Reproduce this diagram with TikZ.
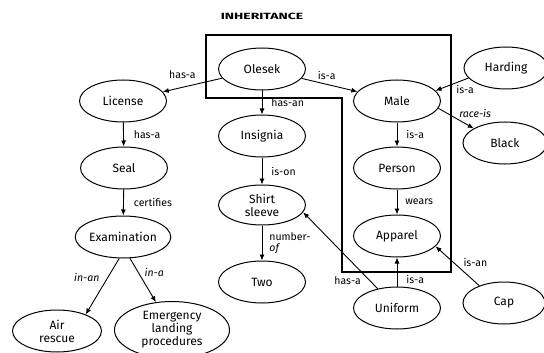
\documentclass[tikz,border=0pt]{standalone}
\usepackage{fontspec}
\setmainfont{Fira Sans}
\usetikzlibrary{shapes.geometric,arrows.meta}

\tikzset{
  concept/.style={draw, ellipse, line width=1pt, minimum width=87pt, minimum height=42pt,
    inner sep=0pt, align=center, font=\fontsize{12}{13}\selectfont},
  rel/.style={-{Latex[length=6pt,width=5pt]}, line width=0.9pt},
  lbl/.style={font=\fontsize{10.5}{11}\selectfont, inner sep=1pt, align=left},
  ilbl/.style={lbl, font=\fontsize{10.5}{11}\selectfont\itshape},
}

\begin{document}
\begin{tikzpicture}[x=1pt, y=-1pt]
\useasboundingbox (0,0) rectangle (544,353);

\node (title) at (262,16) {\scalebox{1.55}[1]{\fontsize{9}{9}\selectfont\bfseries INHERITANCE}};

% the inheritance frame
\draw[line width=2.5pt] (206,35) -- (451,35) -- (451,272) -- (342,272) -- (342,98) -- (206,98) -- cycle;

% concepts
\node[concept] (olesek) at (262,69) {Olesek};
\node[concept] (license) at (123,101) {License};
\node[concept] (seal) at (124,168) {Seal};
\node[concept] (exam) at (123,237) {Examination};
\node[concept, minimum width=89pt] (air) at (57,331) {Air\\rescue};
\node[concept, minimum width=115pt, minimum height=57pt] (emerg) at (172,330) {Emergency\\landing\\procedures};
\node[concept] (insignia) at (262,136) {Insignia};
\node[concept, minimum height=40pt] (shirt) at (262,205) {Shirt\\sleeve};
\node[concept] (two) at (262,282) {Two};
\node[concept] (male) at (397,101) {Male};
\node[concept] (person) at (397,168) {Person};
\node[concept] (apparel) at (397,236) {Apparel};
\node[concept] (uniform) at (397,308) {Uniform};
\node[concept, minimum width=82pt] (cap) at (504,303) {Cap};
\node[concept, minimum width=84pt] (harding) at (506,68) {Harding};
\node[concept, minimum width=84pt] (black) at (505,143) {Black};

% relations
\draw[rel] (olesek) -- (license) node[lbl, pos=0.67, above=7pt] (l-has1) {has-a};
\draw[rel] (olesek) -- (male) node[lbl, pos=0.45, above=3pt] (l-isa1) {is-a};
\draw[rel] (olesek) -- (insignia) node[lbl, midway, right=8pt] (l-hasan) {has-an};
\draw[rel] (license) -- (seal) node[lbl, midway, right=9pt] (l-has2) {has-a};
\draw[rel] (seal) -- (exam) node[lbl, midway, right=9pt] (l-cert) {certifies};
\draw[rel] (exam.-100) -- (air.30) node[ilbl, pos=0.34, left=7pt] (l-inan) {in-an};
\draw[rel] (exam.-72) -- (emerg.120) node[ilbl, pos=0.32, right=5pt] (l-ina) {in-a};
\draw[rel] (insignia) -- (shirt) node[lbl, midway, right=8pt] (l-ison) {is-on};
\draw[rel] (shirt) -- (two) node[lbl, midway, right=6pt] (l-num) {number-\\\textit{of}};
\draw[rel] (male) -- (person) node[lbl, midway, right=8pt] (l-isa2) {is-a};
\draw[rel] (person) -- (apparel) node[lbl, midway, right=7pt] (l-wears) {wears};
\draw[rel] (uniform) -- (apparel) node[lbl, pos=0.25, right=8pt] (l-isa3) {is-a};
\draw[rel] (uniform.135) -- (shirt.-10) node[lbl, pos=0.1, left=8pt] (l-has3) {has-a};
\draw[rel] (cap.145) -- (apparel.-15) node[lbl, pos=0.6, right=9pt] (l-isan) {is-an};
\draw[rel] (harding.-165) -- (male.15) node[lbl, pos=0.1, below=5pt] (l-isa4) {is-a};
\draw[rel] (male.-10) -- (black.155) node[ilbl, pos=0.55, above right=0pt] (l-race) {race-is};
\end{tikzpicture}
\end{document}
